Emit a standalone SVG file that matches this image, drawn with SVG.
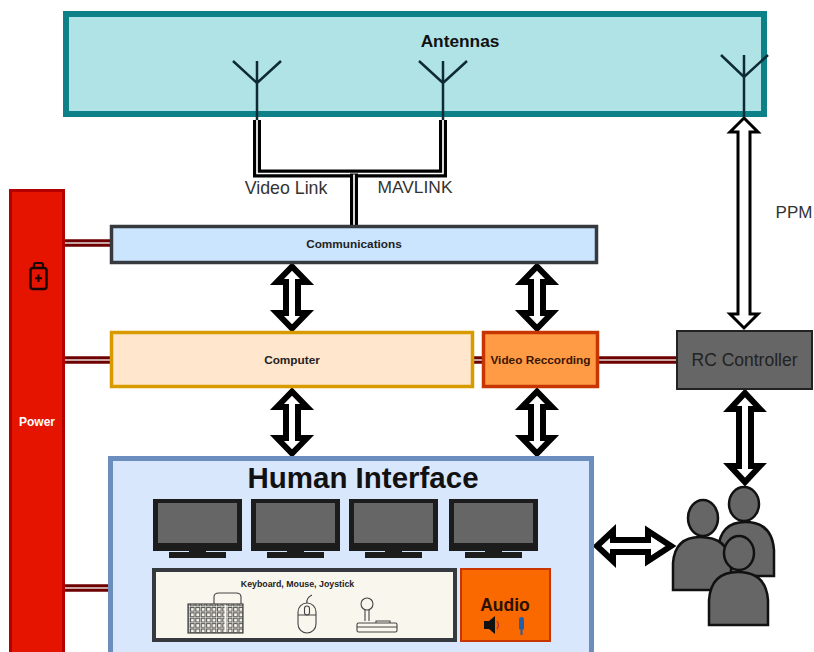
<svg xmlns="http://www.w3.org/2000/svg" width="814" height="652" viewBox="0 0 814 652">
<style>
text{font-family:"Liberation Sans",Arial,sans-serif;text-anchor:middle}
.b{font-weight:bold}
.lbl{fill:#333}
.ant{fill:none;stroke:#0e2a33;stroke-width:2.5}
.dbo{fill:none;stroke:#000;stroke-width:8;stroke-linejoin:miter}
.dbi{fill:none;stroke:#fff;stroke-width:1.700}
.pwo{stroke:#6f0000;stroke-width:7.500;fill:none}
.pwi{stroke:#e6dcdc;stroke-width:1.500;fill:none}
.arr{fill:#fff;stroke:#000;stroke-width:6;stroke-linejoin:miter;stroke-miterlimit:8}
.mb{fill:#1c1c1c}
.ms{fill:#666}
.per{fill:#666;stroke:#111;stroke-width:2.500}
.ic{fill:none;stroke:#444;stroke-width:1.100}
</style>
<defs>
<pattern id="keys" x="190" y="607" width="5.400" height="5.400" patternUnits="userSpaceOnUse">
<rect x="0.500" y="0.500" width="3.800" height="3.800" fill="none" stroke="#555" stroke-width="1"/>
</pattern>
<polygon id="dblv" class="arr" points="0,2.500 15,18 6,18 6,49 15,49 0,64.500 -15,49 -6,49 -6,18 -15,18"/>
<g id="monitor">
<rect class="mb" x="0" y="0" width="89" height="52"/>
<rect class="ms" x="5" y="4" width="79" height="40"/>
<rect class="mb" x="16" y="53" width="57" height="6"/>
<rect class="mb" x="36" y="51" width="17" height="3"/>
</g>
</defs>

<g id="connectors">
<path class="dbo" d="M257 120V173.500H443V120"/>
<path class="dbi" d="M257 120V173.500H443V120"/>
<path class="dbo" d="M354 173.500V226"/>
<path class="dbi" d="M354 174.500V226"/>
<path class="pwo" d="M64 243H110M64 360H110M64 588H108M474 360H482M599 360H676"/>
<path class="pwi" d="M64 243H110M64 360H110M64 588H108M474 360H482M599 360H676"/>
<use href="#dblv" x="292" y="264"/>
<use href="#dblv" x="537" y="264"/>
<use href="#dblv" x="292" y="389"/>
<use href="#dblv" x="537" y="389"/>
<polygon class="arr" points="745,393 760,409 751,409 751,466 760,466 745,482 730,466 739,466 739,409 730,409"/>
<polygon class="arr" points="597,546 613,531 613,540 648,540 648,531 671,546 648,561 648,552 613,552 613,561"/>
<polygon fill="#fff" stroke="#000" stroke-width="3" stroke-miterlimit="8" points="744,118 758,132 750,132 750,314 758,314 744,328 730,314 738,314 738,132 730,132"/>
</g>

<g id="antennas">
<rect x="66" y="14" width="698" height="100" fill="#b0e3e6" stroke="#0e8088" stroke-width="6"/>
<text class="b" x="460" y="47" font-size="17.300" fill="#111">Antennas</text>
<path class="ant" d="M257 61V120M233 61L257 83L281 61"/>
<path class="ant" d="M443 61V120M419 61L443 83L467 61"/>
<path class="ant" d="M744 55V117M721 55L744 77L768 55"/>
</g>

<text class="lbl" x="286" y="194" font-size="17.800">Video Link</text>
<text class="lbl" x="415" y="193" font-size="17.400">MAVLINK</text>
<text class="lbl" x="794" y="218" font-size="17">PPM</text>

<g id="power">
<rect x="10.500" y="190.500" width="53" height="470" fill="#e51400" stroke="#b20000" stroke-width="3"/>
<text class="b" x="37" y="426" font-size="12" fill="#fff">Power</text>
<rect x="30.500" y="268" width="16" height="21" rx="2.500" fill="none" stroke="#1a0505" stroke-width="2.500"/>
<path d="M34 268V264.500Q34 263 36 263H41Q43 263 43 264.500V268" fill="none" stroke="#1a0505" stroke-width="2.200"/>
<path d="M38.500 274.500V282M35 278.300H42" stroke="#1a0505" stroke-width="2"/>
</g>

<g id="communications">
<rect x="111.500" y="226.500" width="485" height="36" fill="#cce5ff" stroke="#36393d" stroke-width="3.500"/>
<text class="b" x="354" y="248" font-size="11.800" fill="#222">Communications</text>
</g>

<g id="computer">
<rect x="111.500" y="332.500" width="361" height="54" fill="#ffe6cc" stroke="#d79b00" stroke-width="3.500"/>
<text class="b" x="292" y="364" font-size="11.800" fill="#222">Computer</text>
</g>

<g id="video-recording">
<rect x="483.500" y="332.500" width="114" height="54" fill="#ff9b45" stroke="#c73500" stroke-width="3.500"/>
<text class="b" x="540.500" y="364" font-size="11.800" fill="#3a1500">Video Reccording</text>
</g>

<g id="rc-controller">
<rect x="677" y="331" width="135" height="58" fill="#666" stroke="#222" stroke-width="2"/>
<text x="744.500" y="366" font-size="17.500" fill="#222">RC Controller</text>
</g>

<g id="human-interface">
<rect x="110.500" y="458.500" width="481" height="200" fill="#d8e7fb" stroke="#6c8ebf" stroke-width="5"/>
<text class="b" x="363" y="488" font-size="29.500" fill="#111">Human Interface</text>
<use href="#monitor" x="153" y="499"/>
<use href="#monitor" x="251" y="499"/>
<use href="#monitor" x="349" y="499"/>
<use href="#monitor" x="449" y="499"/>
</g>

<g id="input-devices">
<rect x="154" y="570" width="301" height="70" fill="#f9f7ed" stroke="#36393d" stroke-width="4"/>
<text class="b" x="297.500" y="587" font-size="8.800" fill="#222">Keyboard, Mouse, Joystick</text>
<rect x="188" y="604" width="55" height="29" fill="url(#keys)" stroke="#444" stroke-width="1.200"/>
<path d="M225.500 605V632" stroke="#f9f7ed" stroke-width="2"/>
<path class="ic" d="M214 604V597Q214 593 219 593H236Q241 593 241 597V604" stroke-width="1.400"/>
<rect class="ic" x="298" y="603" width="18" height="30" rx="9"/>
<rect class="ic" x="304.500" y="606" width="5" height="9" rx="2.500"/>
<path class="ic" d="M298 615H316M307 603Q306 598 312 595"/>
<circle class="ic" cx="367" cy="604" r="6"/>
<path class="ic" d="M365 610V621M369 610V621"/>
<rect class="ic" x="357" y="623" width="40" height="9" rx="1.500"/>
<path class="ic" d="M357 627H397M376 623V621H390V623"/>
</g>

<g id="audio">
<rect x="461" y="569" width="89" height="72" fill="#fa6800" stroke="#c73500" stroke-width="2"/>
<text class="b" x="505" y="611" font-size="17.500" fill="#2a1000">Audio</text>
<path d="M484 621L489 621L495 616V634L489 629H484Z" fill="#111"/>
<path d="M497 621Q500 625 497 629" fill="none" stroke="#a33" stroke-width="1.200"/>
<rect x="519" y="617" width="5" height="13" rx="2.500" fill="#1f5fae"/>
<path d="M521.500 630V635" stroke="#1f5fae" stroke-width="2"/>
</g>

<g id="operators">
<path class="per" d="M718 576V550Q720 522 745 522Q772 522 774 550V576Z"/>
<ellipse class="per" cx="744" cy="504" rx="15" ry="17"/>
<path class="per" d="M673 590V563Q675 537 700 537Q728 537 731 563V590Z"/>
<ellipse class="per" cx="703" cy="518" rx="15" ry="18"/>
<path class="per" d="M709 625V600Q711 572 738 572Q766 572 768 600V625Z"/>
<ellipse class="per" cx="739" cy="553" rx="15" ry="17"/>
</g>
</svg>
